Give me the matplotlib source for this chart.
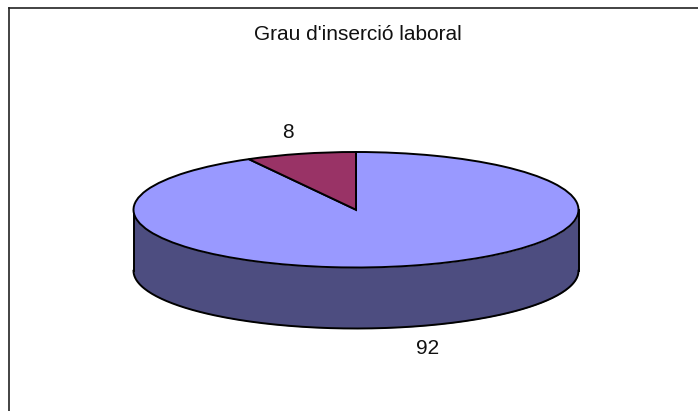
import matplotlib
matplotlib.use("Agg")
import matplotlib.pyplot as plt
import numpy as np

values = [92, 8]
labels = ["92", "8"]
title = "Grau d'inserció laboral"
colors = ["#9999FF", "#993366"]
side_color = "#4D4D80"

W, H = 698, 411
plt.rcParams["font.family"] = ["Liberation Sans", "DejaVu Sans"]

fig = plt.figure(figsize=(W / 100, H / 100), dpi=100)

# frame, only top and left are visible in the picture
frame = fig.add_axes([8.5 / W, 0, 1 - 8.5 / W, 1 - 8.5 / H])
frame.set_xticks([])
frame.set_yticks([])
frame.spines["right"].set_visible(False)
frame.spines["bottom"].set_visible(False)
for s in ["left", "top"]:
    frame.spines[s].set_linewidth(1.2)
    frame.spines[s].set_color("#222222")

# axes box is the top ellipse of the pie, unit circle gets squashed
left, right, top, bottom = 133.5, 578.5, 152, 267.5
lw = 1.4
ax = fig.add_axes([left / W, 1 - bottom / H, (right - left) / W, (bottom - top) / H])
ax.patch.set_alpha(0)

wedges, _ = ax.pie(
    values,
    colors=colors,
    startangle=90,
    counterclock=False,
    wedgeprops={"edgecolor": "black", "linewidth": lw, "clip_on": False, "zorder": 3},
)
ax.set_aspect("auto")
ax.set_xlim(-1, 1)
ax.set_ylim(-1, 1)

# side wall of the cylinder, lower half of the ellipse pushed down
depth = 2 * 61 / (bottom - top)
t = np.linspace(np.pi, 2 * np.pi, 200)
x = np.cos(t)
y = np.sin(t)
ax.fill_between(x, y - depth, y, color=side_color, lw=0, clip_on=False, zorder=1)
ax.plot(x, y - depth, color="black", lw=lw, clip_on=False, zorder=2)
ax.plot([-1, -1], [0, -depth], color="black", lw=lw, clip_on=False, zorder=2)
ax.plot([1, 1], [0, -depth], color="black", lw=lw, clip_on=False, zorder=2)

fig.text(358 / W, 1 - 35 / H, title, ha="center", va="center", fontsize=15, color="#111111")
fig.text(428 / W, 1 - 348 / H, labels[0], ha="center", va="center", fontsize=15, color="#111111")
fig.text(288 / W, 1 - 132 / H, labels[1], ha="center", va="center", fontsize=15, color="#111111")

fig.savefig("out.png", dpi=100)
